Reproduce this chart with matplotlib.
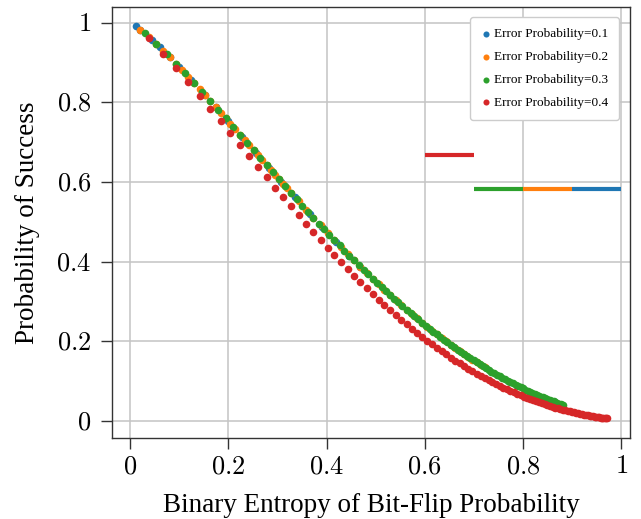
import matplotlib
matplotlib.use("Agg")
import matplotlib.pyplot as plt

plt.rcParams["font.family"] = ["Liberation Serif", "DejaVu Serif"]
plt.rcParams["mathtext.fontset"] = "cm"

#1、Data (x = binary entropy, y = probability of success)
x_err01 = [0.0114, 0.0208, 0.0454, 0.0602, 0.0808, 0.1001, 0.1242, 0.1525, 0.1739, 0.1994,
           0.2284, 0.2559, 0.2821, 0.3073, 0.3353, 0.3659, 0.3915, 0.4196, 0.4464, 0.4690]
y_err01 = [0.9910, 0.9821, 0.9559, 0.9387, 0.9135, 0.8889, 0.8570, 0.8186, 0.7889, 0.7532,
           0.7122, 0.6733, 0.6362, 0.6010, 0.5621, 0.5204, 0.4862, 0.4496, 0.4154, 0.3874]

x_err02 = [0.0208, 0.0376, 0.0529, 0.0672, 0.0808, 0.0938, 0.1063, 0.1184, 0.1301, 0.1414,
           0.1525, 0.1633, 0.1739, 0.1843, 0.1944, 0.2043, 0.2141, 0.2236, 0.2330, 0.2423,
           0.2514, 0.2603, 0.2692, 0.2778, 0.2864, 0.2948, 0.3032, 0.3114, 0.3195, 0.3275,
           0.3431, 0.3584, 0.3733, 0.3879, 0.4022, 0.4161, 0.4298, 0.4431, 0.4562, 0.4690,
           0.4816, 0.4939, 0.5059, 0.5178, 0.5294, 0.5408, 0.5519, 0.5629, 0.5737, 0.5842,
           0.5946, 0.6047, 0.6148, 0.6247, 0.6343, 0.6437, 0.6531, 0.6622, 0.6713, 0.6801,
           0.6888, 0.6972, 0.7056, 0.7138, 0.7219]
y_err02 = [0.9821, 0.9646, 0.9473, 0.9303, 0.9135, 0.8970, 0.8808, 0.8649, 0.8492, 0.8338,
           0.8186, 0.8036, 0.7889, 0.7745, 0.7602, 0.7462, 0.7325, 0.7189, 0.7057, 0.6925,
           0.6796, 0.6670, 0.6545, 0.6423, 0.6302, 0.6184, 0.6068, 0.5953, 0.5841, 0.5730,
           0.5514, 0.5306, 0.5104, 0.4910, 0.4722, 0.4540, 0.4365, 0.4195, 0.4032, 0.3874,
           0.3722, 0.3575, 0.3433, 0.3297, 0.3165, 0.3038, 0.2915, 0.2797, 0.2683, 0.2573,
           0.2468, 0.2366, 0.2268, 0.2173, 0.2082, 0.1995, 0.1910, 0.1830, 0.1751, 0.1676,
           0.1604, 0.1535, 0.1468, 0.1404, 0.1342]

x_err03 = [0.0295, 0.0529, 0.0741, 0.0938, 0.1124, 0.1301, 0.1470, 0.1633, 0.1791, 0.1944,
           0.2092, 0.2236, 0.2377, 0.2514, 0.2648, 0.2778, 0.2906, 0.3032, 0.3154, 0.3275,
           0.3392, 0.3508, 0.3622, 0.3733, 0.3843, 0.3951, 0.4057, 0.4161, 0.4264, 0.4365,
           0.4464, 0.4562, 0.4658, 0.4753, 0.4846, 0.4939, 0.5029, 0.5119, 0.5207, 0.5294,
           0.5379, 0.5464, 0.5546, 0.5629, 0.5710, 0.5790, 0.5868, 0.5946, 0.6022, 0.6098,
           0.6172, 0.6247, 0.6319, 0.6391, 0.6461, 0.6531, 0.6600, 0.6668, 0.6735, 0.6801,
           0.6866, 0.6930, 0.6993, 0.7056, 0.7118, 0.7179, 0.7239, 0.7299, 0.7357, 0.7415,
           0.7472, 0.7528, 0.7583, 0.7638, 0.7692, 0.7745, 0.7797, 0.7849, 0.7900, 0.7950,
           0.8000, 0.8049, 0.8097, 0.8144, 0.8191, 0.8237, 0.8282, 0.8327, 0.8371, 0.8415,
           0.8457, 0.8499, 0.8541, 0.8582, 0.8622, 0.8661, 0.8700, 0.8738, 0.8776, 0.8813]
y_err03 = [0.9733, 0.9473, 0.9219, 0.8970, 0.8728, 0.8492, 0.8261, 0.8036, 0.7817, 0.7602,
           0.7393, 0.7189, 0.6990, 0.6796, 0.6607, 0.6423, 0.6243, 0.6068, 0.5897, 0.5730,
           0.5568, 0.5409, 0.5255, 0.5104, 0.4958, 0.4815, 0.4676, 0.4540, 0.4408, 0.4279,
           0.4154, 0.4032, 0.3913, 0.3797, 0.3685, 0.3575, 0.3468, 0.3364, 0.3263, 0.3165,
           0.3069, 0.2976, 0.2885, 0.2797, 0.2711, 0.2628, 0.2548, 0.2468, 0.2391, 0.2316,
           0.2244, 0.2173, 0.2105, 0.2038, 0.1973, 0.1910, 0.1850, 0.1790, 0.1732, 0.1676,
           0.1622, 0.1569, 0.1518, 0.1468, 0.1420, 0.1373, 0.1327, 0.1283, 0.1240, 0.1199,
           0.1158, 0.1119, 0.1081, 0.1044, 0.1008, 0.0974, 0.0940, 0.0908, 0.0876, 0.0846,
           0.0816, 0.0788, 0.0760, 0.0733, 0.0707, 0.0682, 0.0657, 0.0634, 0.0611, 0.0589,
           0.0567, 0.0547, 0.0526, 0.0507, 0.0488, 0.0470, 0.0452, 0.0436, 0.0419, 0.0404]

x_err04 = [0.0376, 0.0672, 0.0938, 0.1184, 0.1414, 0.1633, 0.1843, 0.2043, 0.2236, 0.2423,
           0.2603, 0.2778, 0.2948, 0.3114, 0.3275, 0.3431, 0.3584, 0.3733, 0.3879, 0.4022,
           0.4161, 0.4298, 0.4431, 0.4562, 0.4690, 0.4816, 0.4939, 0.5059, 0.5178, 0.5294,
           0.5408, 0.5519, 0.5629, 0.5737, 0.5842, 0.5946, 0.6047, 0.6148, 0.6247, 0.6343,
           0.6437, 0.6531, 0.6622, 0.6713, 0.6801, 0.6888, 0.6972, 0.7056, 0.7138, 0.7219,
           0.7299, 0.7376, 0.7452, 0.7528, 0.7601, 0.7674, 0.7745, 0.7815, 0.7883, 0.7950,
           0.8016, 0.8081, 0.8144, 0.8207, 0.8267, 0.8327, 0.8385, 0.8443, 0.8499, 0.8555,
           0.8608, 0.8661, 0.8713, 0.8764, 0.8813, 0.8861, 0.8908, 0.8955, 0.9000, 0.9044,
           0.9087, 0.9129, 0.9169, 0.9209, 0.9248, 0.9286, 0.9322, 0.9358, 0.9393, 0.9427,
           0.9459, 0.9491, 0.9522, 0.9552, 0.9580, 0.9608, 0.9635, 0.9661, 0.9686, 0.9710]
y_err04 = [0.9607, 0.9228, 0.8863, 0.8510, 0.8171, 0.7843, 0.7528, 0.7224, 0.6931, 0.6648,
           0.6376, 0.6115, 0.5863, 0.5620, 0.5386, 0.5161, 0.4945, 0.4737, 0.4537, 0.4344,
           0.4159, 0.3981, 0.3809, 0.3645, 0.3487, 0.3335, 0.3189, 0.3049, 0.2914, 0.2785,
           0.2661, 0.2542, 0.2428, 0.2318, 0.2213, 0.2112, 0.2018, 0.1923, 0.1834, 0.1749,
           0.1669, 0.1589, 0.1516, 0.1443, 0.1374, 0.1309, 0.1246, 0.1186, 0.1128, 0.1074,
           0.1021, 0.0971, 0.0923, 0.0877, 0.0833, 0.0792, 0.0752, 0.0714, 0.0678, 0.0643,
           0.0610, 0.0578, 0.0548, 0.0520, 0.0493, 0.0466, 0.0442, 0.0418, 0.0396, 0.0374,
           0.0355, 0.0335, 0.0317, 0.0299, 0.0282, 0.0267, 0.0252, 0.0238, 0.0225, 0.0212,
           0.0200, 0.0188, 0.0177, 0.0167, 0.0157, 0.0148, 0.0139, 0.0131, 0.0123, 0.0115,
           0.0108, 0.0102, 0.0096, 0.0090, 0.0084, 0.0079, 0.0074, 0.0069, 0.0065, 0.0061]

# short horizontal markers on the right (one per series)
seg_level = [0.582, 0.582, 0.582, 0.669]
seg_start = [0.9, 0.8, 0.7, 0.6]
seg_end = [1.0, 0.9, 0.8, 0.7]

labels = ["Error Probability=0.1", "Error Probability=0.2",
          "Error Probability=0.3", "Error Probability=0.4"]
colors = ["#1f77b4", "#ff7f0e", "#2ca02c", "#d62728"]
tick_vals = [0, 0.2, 0.4, 0.6, 0.8, 1]
tick_text = ["0", "0.2", "0.4", "0.6", "0.8", "1"]

#2、Figure
fig = plt.figure(figsize=(6.41, 5.19), dpi=100)
ax = fig.add_axes([112 / 641, 1 - 438 / 519, 518 / 641, 430.7 / 519])

series = [(x_err01, y_err01), (x_err02, y_err02), (x_err03, y_err03), (x_err04, y_err04)]
for i, (xs, ys) in enumerate(series):
    ax.scatter(xs, ys, s=30, color=colors[i], linewidths=0, label=labels[i], zorder=3)

for i in range(4):
    ax.hlines(seg_level[i], seg_start[i], seg_end[i], colors=colors[i], linewidth=3, zorder=3)

ax.set_xlim(-0.037, 1.018)
ax.set_ylim(-0.043, 1.039)
ax.set_xticks(tick_vals)
ax.set_xticklabels(["$" + t + "$" for t in tick_text])
ax.set_yticks(tick_vals)
ax.set_yticklabels(["$" + t + "$" for t in tick_text])
ax.tick_params(axis="both", direction="out", length=8, width=1.0, color="#333333", labelsize=19)
ax.tick_params(axis="x", pad=5)
ax.tick_params(axis="y", pad=7)
ax.grid(True, color="#c4c4c4", linewidth=1.1)
ax.set_axisbelow(True)
for sp in ax.spines.values():
    sp.set_color("#333333")
    sp.set_linewidth(1.0)

ax.set_xlabel("Binary Entropy of Bit-Flip Probability", fontsize=19.5, labelpad=11)
ax.set_ylabel("Probability of Success", fontsize=19.5, labelpad=12)

leg = ax.legend(loc="upper right", bbox_to_anchor=(619 / 641, 1 - 17 / 519),
                bbox_transform=fig.transFigure, borderaxespad=0, fontsize=9.5,
                handlelength=0.6, handletextpad=0.3, labelspacing=0.8, borderpad=0.85,
                markerscale=0.8, scatterpoints=1, frameon=True, framealpha=1,
                edgecolor="#cccccc")
leg.set_zorder(10)

fig.savefig("out.png", dpi=100)
